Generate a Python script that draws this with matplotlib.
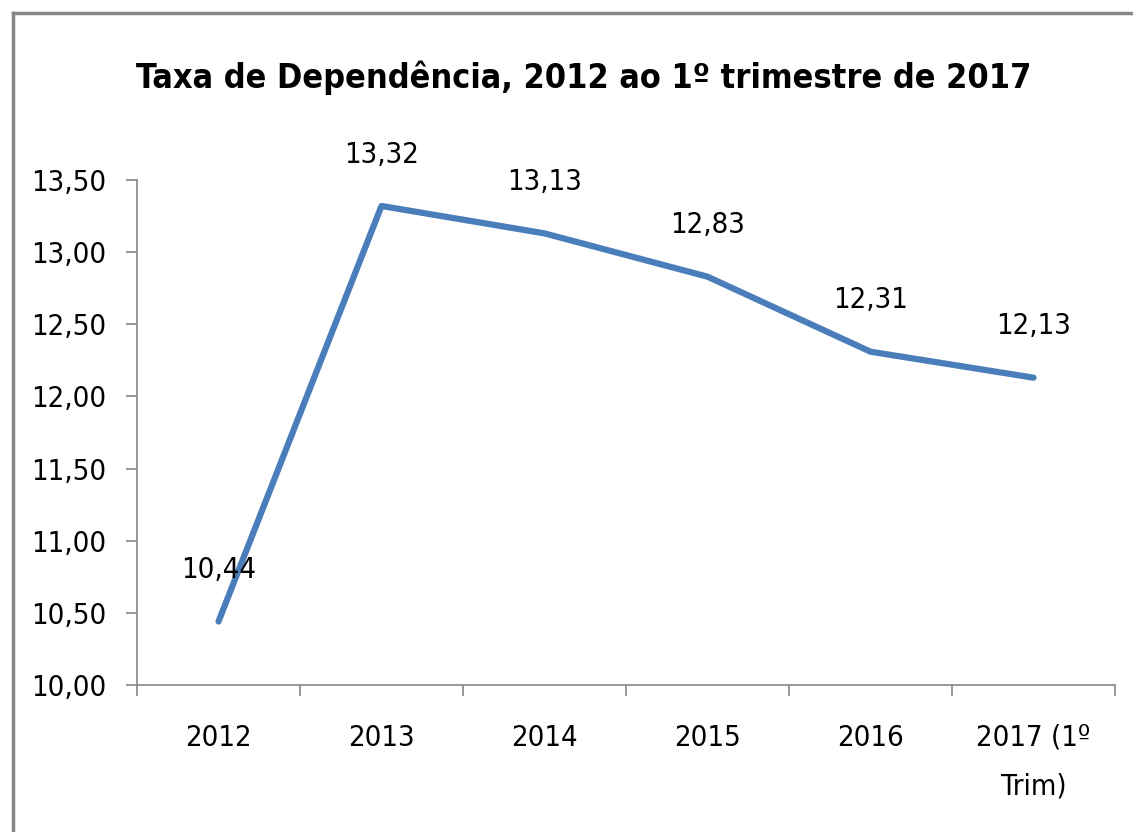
import matplotlib
matplotlib.use("Agg")
import matplotlib.pyplot as plt
from matplotlib.lines import Line2D

categories = ["2012", "2013", "2014", "2015", "2016", "2017 (1º\nTrim)"]
values = [10.44, 13.32, 13.13, 12.83, 12.31, 12.13]
yticks = [10.0, 10.5, 11.0, 11.5, 12.0, 12.5, 13.0, 13.5]
title = "Taxa de Dependência, 2012 ao 1º trimestre de 2017"

plt.rcParams['font.family'] = ['DejaVu Sans']
plt.rcParams['font.stretch'] = 'condensed'

W, H = 1133, 832
fig = plt.figure(figsize=(W / 100, H / 100), dpi=100)
ax = fig.add_axes([137 / W, 1 - 685 / H, (1115 - 137) / W, (685 - 180) / H])

x = list(range(len(categories)))
ax.plot(x, values, color='#4A7EBB', lw=4.5, solid_capstyle='round', solid_joinstyle='round')
for xi, v in zip(x, values):
    ax.annotate(f"{v:.2f}".replace('.', ','), (xi, v), xytext=(0, 37), textcoords='offset points',
                ha='center', va='center', fontsize=21, color='#000000')

ax.set_xlim(-0.5, len(categories) - 0.5)
ax.set_ylim(10, 13.5)
ax.set_yticks(yticks)
ax.set_yticklabels([f"{t:.2f}".replace('.', ',') for t in yticks], fontsize=21)
ax.set_xticks(x)
ax.set_xticklabels(categories, fontsize=21, va='top', linespacing=1.95)
ax.set_xticks([i - 0.5 for i in range(len(categories) + 1)], minor=True)
ax.tick_params(axis='x', which='major', length=0, pad=28)
ax.tick_params(axis='x', which='minor', length=8, width=1.2, color='#868686')
ax.tick_params(axis='y', length=8, width=1.2, color='#868686', pad=14)
for s in ['top', 'right']:
    ax.spines[s].set_visible(False)
for s in ['left', 'bottom']:
    ax.spines[s].set_color('#868686')
    ax.spines[s].set_linewidth(1.2)

fig.text(584 / W, 1 - 78 / H, title, ha='center', va='center', fontsize=24.5, fontweight='bold')

# outer border (top and left)
fig.add_artist(Line2D([13 / W, 1], [1 - 13 / H, 1 - 13 / H], transform=fig.transFigure, color='#868686', lw=2.5))
fig.add_artist(Line2D([13 / W, 13 / W], [1 - 13 / H, 0], transform=fig.transFigure, color='#868686', lw=2.5))

fig.savefig("out.png", dpi=100)
